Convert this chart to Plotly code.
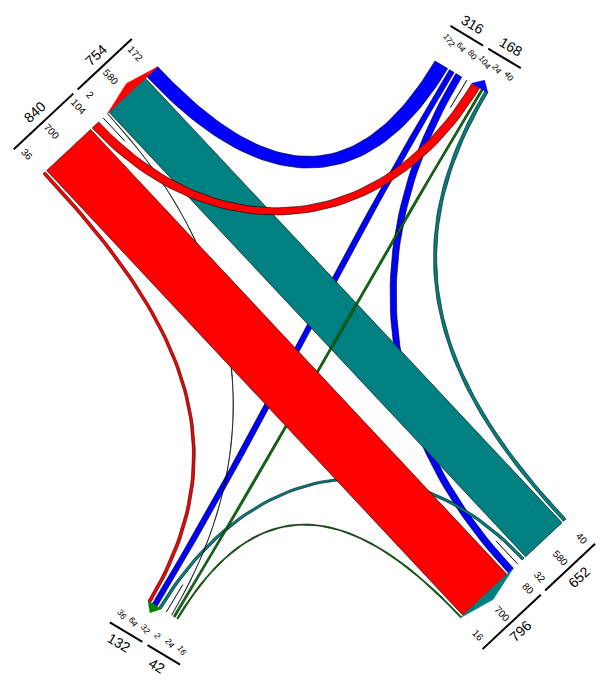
import numpy as np
import plotly.graph_objects as go

# ---------------- data ----------------
node_names = ["Red", "Blue", "Teal", "Green"]          # clockwise from top-left
node_colors = ["#FF0000", "#0000FF", "#008080", "#008000"]
flow_src = ["Red", "Red", "Red", "Blue", "Blue", "Blue", "Teal", "Teal", "Teal", "Green", "Green", "Green"]
flow_dst = ["Blue", "Teal", "Green", "Red", "Green", "Teal", "Red", "Blue", "Green", "Red", "Blue", "Teal"]
flow_val = [104, 700, 36, 172, 64, 80, 580, 40, 32, 2, 24, 16]

# ---------------- layout constants (pixels) ----------------
W, H = 603, 681
node_start = {"Red": (43, 174), "Blue": (435, 61), "Teal": (566, 519), "Green": (178, 619)}
node_angle = {"Red": 46.9, "Blue": 121.0, "Teal": 226.9, "Green": 301.0}   # inward direction
value_angle = {"Red": 47, "Blue": 55, "Teal": 47, "Green": 55}
value_size = {"Red": 10, "Blue": 8.5, "Teal": 10, "Green": 8.5}
label_sp = {"Red": 13.0, "Blue": 14.0, "Teal": 13.0, "Green": 14.0}
K = 0.086          # px per unit
GAP = 2.0
GROUP_GAP = 12.0
VAL_OFF, LINE_OFF, TOT_OFF = 25, 38, 51

idx = {nm: i for i, nm in enumerate(node_names)}
col = dict(zip(node_names, node_colors))
val = {(s, d): v for s, d, v in zip(flow_src, flow_dst, flow_val)}


def geom(nm):
    th = np.radians(node_angle[nm])
    d = np.array([np.cos(th), np.sin(th)])
    u = np.array([d[1], -d[0]])
    return np.array(node_start[nm], float), u, d


def P(nm, s, off=0.0):
    b, u, d = geom(nm)
    return b + s * u - off * d


# slots along each node baseline
slots, groups, order_of = {}, {}, {}
for nm in node_names:
    k = idx[nm]
    order = [node_names[(k - 1) % 4], node_names[(k + 2) % 4], node_names[(k + 1) % 4]]
    order_of[nm] = order
    s = 0.0
    for kind in ("out", "in"):
        g0 = s
        for j, o in enumerate(order):
            v = val[(nm, o)] if kind == "out" else val[(o, nm)]
            slots[(nm, kind, o)] = (s, s + v * K)
            s += v * K
            if j < 2:
                s += GAP
        groups[(nm, kind)] = (g0, s)
        s += GROUP_GAP


def bez(a, da, b, db, m=60):
    L = 100 + 0.2 * np.linalg.norm(b - a)
    p1 = a + L * da
    p2 = b + L * db
    t = np.linspace(0, 1, m)[:, None]
    return (1 - t) ** 3 * a + 3 * (1 - t) ** 2 * t * p1 + 3 * (1 - t) * t ** 2 * p2 + t ** 3 * b


fig = go.Figure()

draw_order = ["Blue", "Teal", "Green", "Red"]
for srcn in draw_order:
    for s_, d_, v in zip(flow_src, flow_dst, flow_val):
        if s_ != srcn:
            continue
        s0, s1 = slots[(s_, "out", d_)]
        t0, t1 = slots[(d_, "in", s_)]
        _, _, ds = geom(s_)
        _, _, dd = geom(d_)
        A0, A1 = P(s_, s0), P(s_, s1)
        B0, B1 = P(d_, t0), P(d_, t1)
        e1 = bez(A0, ds, B1, dd)
        e2 = bez(B0, dd, A1, ds)
        poly = np.vstack([e1, e2, A0[None, :]])
        fig.add_trace(go.Scatter(x=poly[:, 0], y=poly[:, 1], mode="lines", fill="toself",
                                 fillcolor=col[s_], line=dict(color="rgba(0,0,0,0.85)", width=0.7),
                                 hoverinfo="skip", showlegend=False))

# arrow triangles, separators
for nm in node_names:
    a, b = groups[(nm, "in")]
    p0, p1, ap = P(nm, a), P(nm, b), P(nm, (a + b) / 2, 9)
    tri = np.array([p0, ap, p1, p0])
    fig.add_trace(go.Scatter(x=tri[:, 0], y=tri[:, 1], mode="lines", fill="toself",
                             fillcolor=col[nm], line=dict(color=col[nm], width=0.5),
                             hoverinfo="skip", showlegend=False))
    c = (groups[(nm, "out")][1] + groups[(nm, "in")][0]) / 2
    q0, q1 = P(nm, c), P(nm, c, -32)
    fig.add_trace(go.Scatter(x=[q0[0], q1[0]], y=[q0[1], q1[1]], mode="lines",
                             line=dict(color="black", width=1), hoverinfo="skip", showlegend=False))


def spread(x, sp):
    y = [xi - sp * i for i, xi in enumerate(x)]
    blocks = []
    for yi in y:
        blocks.append([yi, 1])
        while len(blocks) > 1 and blocks[-2][0] / blocks[-2][1] > blocks[-1][0] / blocks[-1][1]:
            s, c = blocks.pop()
            blocks[-1][0] += s
            blocks[-1][1] += c
    z = []
    for s, c in blocks:
        z += [s / c] * c
    return [zi + sp * i for i, zi in enumerate(z)]


def readable(angle):
    while angle > 90:
        angle -= 180
    while angle <= -90:
        angle += 180
    return angle


annotations = []
FONT = "Liberation Sans, Arial, sans-serif"
for nm in node_names:
    centers, texts = [], []
    for kind in ("out", "in"):
        for o in order_of[nm]:
            a, b = slots[(nm, kind, o)]
            centers.append((a + b) / 2)
            texts.append(str(val[(nm, o)] if kind == "out" else val[(o, nm)]))
    pos = spread(centers, label_sp[nm])
    for p, t in zip(pos, texts):
        xy = P(nm, p, VAL_OFF)
        annotations.append(dict(x=xy[0], y=xy[1], xref="x", yref="y", text=t, showarrow=False,
                                xanchor="center", yanchor="middle", textangle=value_angle[nm],
                                font=dict(family=FONT, size=value_size[nm], color="black")))
    lines = []
    for gi, kind in enumerate(("out", "in")):
        g0, g1 = groups[(nm, kind)]
        lp = pos[gi * 3:(gi + 1) * 3]
        lines.append([min(g0, lp[0] - 6), max(g1, lp[-1] + 6)])
    if lines[1][0] - lines[0][1] < 6:
        mid = (lines[1][0] + lines[0][1]) / 2
        lines[0][1] = mid - 3
        lines[1][0] = mid + 3
    _, u, _ = geom(nm)
    ang = readable(np.degrees(np.arctan2(u[1], u[0])))
    for gi, kind in enumerate(("out", "in")):
        lo, hi = lines[gi]
        p0, p1 = P(nm, lo, LINE_OFF), P(nm, hi, LINE_OFF)
        fig.add_trace(go.Scatter(x=[p0[0], p1[0]], y=[p0[1], p1[1]], mode="lines",
                                 line=dict(color="black", width=2), hoverinfo="skip", showlegend=False))
        if kind == "out":
            tot = sum(val[(nm, o)] for o in order_of[nm])
        else:
            tot = sum(val[(o, nm)] for o in order_of[nm])
        xy = P(nm, (lo + hi) / 2, TOT_OFF)
        annotations.append(dict(x=xy[0], y=xy[1], xref="x", yref="y", text=str(tot), showarrow=False,
                                xanchor="center", yanchor="middle", textangle=ang,
                                font=dict(family=FONT, size=14, color="black")))

fig.update_layout(width=W, height=H, autosize=False, margin=dict(l=0, r=0, t=0, b=0),
                  paper_bgcolor="white", plot_bgcolor="white", annotations=annotations,
                  xaxis=dict(range=[0, W], visible=False, fixedrange=True),
                  yaxis=dict(range=[H, 0], visible=False, fixedrange=True),
                  showlegend=False)
fig.write_html("out.html", config={"displayModeBar": False, "staticPlot": True},
               post_script="document.body.style.margin='0';document.body.style.overflow='hidden';")
